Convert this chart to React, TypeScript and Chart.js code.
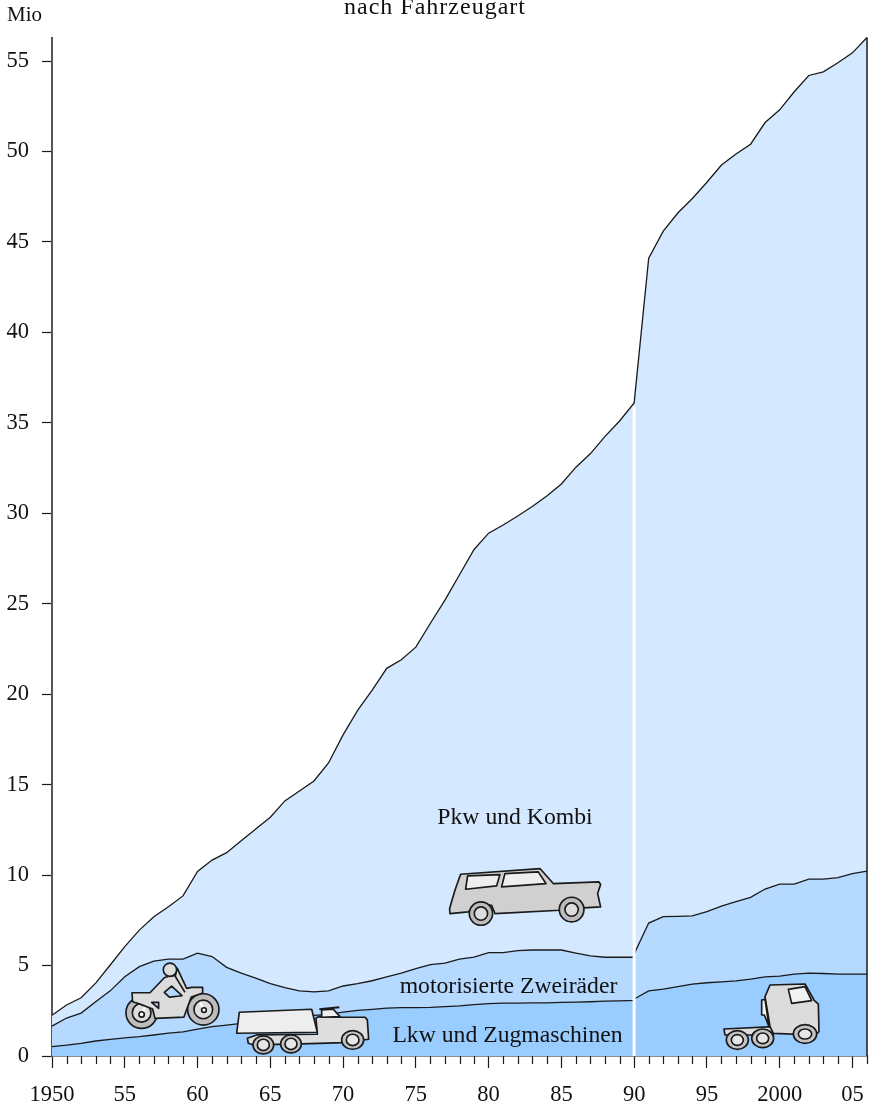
import React, { useEffect, useRef } from "react";
import { Chart, registerables } from "chart.js";

Chart.register(...registerables);

const years = [
  1950, 1951, 1952, 1953, 1954, 1955, 1956, 1957, 1958, 1959,
  1960, 1961, 1962, 1963, 1964, 1965, 1966, 1967, 1968, 1969,
  1970, 1971, 1972, 1973, 1974, 1975, 1976, 1977, 1978, 1979,
  1980, 1981, 1982, 1983, 1984, 1985, 1986, 1987, 1988, 1989,
  1990, 1990, 1991, 1992, 1993, 1994, 1995, 1996, 1997, 1998, 1999,
  2000, 2001, 2002, 2003, 2004, 2005, 2006,
];
const pkwTop = [
  2.25, 2.82, 3.22, 4.03, 5.03, 6.05, 6.96, 7.7, 8.25, 8.85,
  10.2, 10.83, 11.24, 11.9, 12.55, 13.2, 14.1, 14.65, 15.2, 16.2,
  17.75, 19.1, 20.23, 21.43, 21.9, 22.6, 23.92, 25.2, 26.6, 28.0,
  28.9, 29.35, 29.85, 30.37, 30.96, 31.62, 32.55, 33.3, 34.25, 35.1,
  36.1, 36.1, 44.1, 45.6, 46.6, 47.4, 48.3, 49.25, 49.86, 50.4, 51.6,
  52.3, 53.3, 54.2, 54.4, 54.9, 55.45, 56.3,
];
const zweiraederTop = [
  1.65, 2.1, 2.37, 3.0, 3.6, 4.38, 4.94, 5.25, 5.36, 5.36,
  5.69, 5.5, 4.9, 4.58, 4.3, 4.0, 3.78, 3.6, 3.54, 3.6,
  3.87, 4.0, 4.16, 4.38, 4.58, 4.83, 5.05, 5.13, 5.36, 5.46,
  5.71, 5.71, 5.82, 5.86, 5.86, 5.86, 5.69, 5.53, 5.46, 5.46,
  5.46, 5.64, 7.35, 7.7, 7.72, 7.75, 7.98, 8.29, 8.53, 8.77, 9.23,
  9.5, 9.5, 9.78, 9.78, 9.86, 10.08, 10.22,
];
const lkwTop = [
  0.52, 0.6, 0.7, 0.83, 0.92, 1.0, 1.07, 1.16, 1.26, 1.33,
  1.49, 1.62, 1.71, 1.8, 1.9, 2.0, 2.1, 2.2, 2.25, 2.3,
  2.43, 2.52, 2.58, 2.65, 2.67, 2.67, 2.69, 2.73, 2.77, 2.84,
  2.9, 2.92, 2.92, 2.94, 2.94, 2.96, 2.98, 3.0, 3.03, 3.05,
  3.08, 3.15, 3.6, 3.7, 3.84, 3.97, 4.05, 4.1, 4.15, 4.25, 4.37,
  4.42, 4.53, 4.58, 4.56, 4.53, 4.53, 4.53,
];
const xTickYears = [1950, 1955, 1960, 1965, 1970, 1975, 1980, 1985, 1990, 1995, 2000, 2005];
const xTickLabels = ["1950", "55", "60", "65", "70", "75", "80", "85", "90", "95", "2000", "05"];

const SERIF = '"Liberation Serif", "Times New Roman", serif';
const LINE = "#1a1a1a";
const STROKE = 5;

const toPoints = (values: number[]) => values.map((y, i) => ({ x: years[i], y }));

type Pt = [number, number];

function poly(ctx: CanvasRenderingContext2D, pts: Pt[], fill: string, stroke = LINE, width = STROKE) {
  ctx.beginPath();
  pts.forEach(([x, y], i) => (i ? ctx.lineTo(x, y) : ctx.moveTo(x, y)));
  ctx.closePath();
  ctx.fillStyle = fill;
  ctx.fill();
  ctx.lineWidth = width;
  ctx.strokeStyle = stroke;
  ctx.stroke();
}

function wheel(
  ctx: CanvasRenderingContext2D,
  cx: number, cy: number, rx: number, ry: number, irx: number, iry: number,
  tyre = "#c4c4c4", hub = "#e6e6e6",
) {
  ctx.lineWidth = STROKE;
  ctx.strokeStyle = LINE;
  ctx.beginPath();
  ctx.ellipse(cx, cy, rx, ry, 0, 0, Math.PI * 2);
  ctx.fillStyle = tyre;
  ctx.fill();
  ctx.stroke();
  ctx.beginPath();
  ctx.ellipse(cx, cy, irx, iry, 0, 0, Math.PI * 2);
  ctx.fillStyle = hub;
  ctx.fill();
  ctx.stroke();
}

function drawMotorbike(ctx: CanvasRenderingContext2D) {
  wheel(ctx, 65, 173, 47, 47, 28, 28, "#bdbdbd", "#dddddd");
  wheel(ctx, 250, 163, 47, 47, 28, 28, "#bdbdbd", "#dddddd");
  ctx.beginPath(); ctx.moveTo(65, 178); ctx.lineTo(78, 150); ctx.moveTo(252, 165); ctx.lineTo(240, 142);
  ctx.strokeStyle = "#ffffff"; ctx.lineWidth = 7; ctx.stroke();
  ctx.strokeStyle = LINE; ctx.lineWidth = STROKE;
  ctx.fillStyle = "#ffffff";
  ctx.beginPath(); ctx.arc(65, 178, 8, 0, Math.PI * 2); ctx.fill(); ctx.stroke();
  ctx.beginPath(); ctx.arc(252, 165, 7, 0, Math.PI * 2); ctx.fill(); ctx.stroke();
  poly(ctx, [
    [36, 113], [90, 113], [133, 68], [150, 62], [166, 62], [172, 40], [200, 100], [215, 97], [248, 97], [248, 114],
    [214, 126], [205, 150], [192, 186], [105, 190], [98, 162], [62, 148], [38, 140],
  ], "#dcdcdc");
  ctx.beginPath(); ctx.arc(150, 44, 20, 0, Math.PI * 2); ctx.fillStyle = "#dcdcdc"; ctx.fill(); ctx.stroke();
  poly(ctx, [[133, 112], [155, 93], [186, 122], [148, 126]], "#b5d9ff");
  poly(ctx, [[95, 142], [116, 142], [116, 160]], "#b5d9ff");
  ctx.beginPath(); ctx.moveTo(165, 62); ctx.lineTo(195, 112); ctx.stroke();
}

function drawTruck(ctx: CanvasRenderingContext2D) {
  poly(ctx, [
    [52, 115], [80, 105], [262, 103], [258, 55], [265, 50], [335, 52], [405, 52], [412, 60],
    [416, 118], [340, 128], [215, 132], [70, 135], [55, 130],
  ], "#dedede");
  poly(ctx, [[275, 30], [310, 28], [330, 50], [275, 52]], "#f0f0f0");
  ctx.beginPath(); ctx.moveTo(268, 28); ctx.lineTo(328, 22); ctx.lineWidth = 6; ctx.stroke();
  poly(ctx, [[28, 37], [245, 28], [262, 97], [20, 100]], "#eeeeee");
  wheel(ctx, 100, 135, 31, 27, 18, 17);
  wheel(ctx, 183, 132, 31, 27, 18, 17);
  wheel(ctx, 368, 120, 33, 28, 19, 17);
}

function drawCar(ctx: CanvasRenderingContext2D) {
  poly(ctx, [
    [47, 37], [285, 20], [325, 65], [462, 60], [467, 68], [458, 95], [467, 135], [415, 138],
    [345, 145], [150, 155], [140, 130], [100, 125], [70, 150], [15, 155], [14, 140], [30, 85],
  ], "#d0d0d0");
  poly(ctx, [[68, 42], [165, 38], [155, 72], [62, 82]], "#eeeeee");
  poly(ctx, [[180, 35], [280, 30], [303, 65], [170, 75]], "#eeeeee");
  wheel(ctx, 108, 155, 35, 35, 20, 20, "#bcbcbc", "#dcdcdc");
  wheel(ctx, 380, 143, 37, 37, 20, 20, "#bcbcbc", "#dcdcdc");
}

function drawTractor(ctx: CanvasRenderingContext2D) {
  poly(ctx, [[12, 147], [160, 140], [160, 165], [15, 165]], "#dcdcdc");
  poly(ctx, [
    [150, 15], [255, 12], [282, 60], [295, 72], [297, 155], [285, 165], [160, 160], [150, 140], [135, 50],
  ], "#dcdcdc");
  poly(ctx, [[205, 28], [255, 20], [275, 62], [215, 70]], "#f2f2f2");
  poly(ctx, [[125, 60], [135, 58], [147, 140], [133, 105], [125, 105]], "#f5f5f5");
  wheel(ctx, 52, 180, 33, 28, 18, 16);
  wheel(ctx, 128, 175, 33, 28, 18, 16);
  wheel(ctx, 255, 162, 35, 28, 20, 15);
}

const overlay = {
  id: "overlay",
  afterDatasetsDraw(chart: any) {
    const { ctx, scales: { x, y } } = chart;
    const px = (v: number) => x.getPixelForValue(v);
    const py = (v: number) => y.getPixelForValue(v);

    ctx.save();
    // Bruch 1990 (Gebietsstand)
    ctx.strokeStyle = "#ffffff";
    ctx.lineWidth = 3;
    ctx.beginPath();
    ctx.moveTo(px(1990), py(35.9));
    ctx.lineTo(px(1990), py(0));
    ctx.stroke();
    // right edge of the areas
    ctx.strokeStyle = LINE;
    ctx.lineWidth = 1.5;
    ctx.beginPath();
    ctx.moveTo(px(2006), py(56.3));
    ctx.lineTo(px(2006), py(0));
    ctx.stroke();

    // minor x ticks
    ctx.strokeStyle = LINE;
    ctx.lineWidth = 1.2;
    x.ticks.forEach((t: any) => {
      if (xTickYears.includes(t.value)) return;
      const p = Math.round(px(t.value)) + 0.5;
      ctx.beginPath();
      ctx.moveTo(p, py(0));
      ctx.lineTo(p, py(0) + 8);
      ctx.stroke();
    });

    // vehicle pictograms, anchored to the data axes
    const icon = (year: number, value: number, fn: (c: CanvasRenderingContext2D) => void) => {
      ctx.save();
      ctx.translate(px(year), py(value));
      ctx.scale(1 / 3, 1 / 3);
      ctx.lineJoin = "round";
      fn(ctx);
      ctx.restore();
    };
    icon(1954.67, 5.58, drawMotorbike);
    icon(1962.23, 3.1, drawTruck);
    icon(1977.0, 10.73, drawCar);
    icon(1995.9, 4.2, drawTractor);

    // texts
    ctx.fillStyle = "#111111";
    ctx.textBaseline = "alphabetic";
    ctx.font = `23.7px ${SERIF}`;
    ctx.textAlign = "center";
    ctx.fillText("Pkw und Kombi", 515, 824);
    ctx.fillText("motorisierte Zweiräder", 508.5, 993);
    ctx.fillText("Lkw und Zugmaschinen", 507.5, 1042);
    ctx.font = `24px ${SERIF}`;
    (ctx as any).letterSpacing = "1px";
    ctx.fillText("nach Fahrzeugart", 435, 14);
    (ctx as any).letterSpacing = "0px";
    ctx.textAlign = "left";
    ctx.font = `21px ${SERIF}`;
    ctx.fillText("Mio", 7, 21);
    ctx.restore();
  },
};

export default function App() {
  const ref = useRef<HTMLCanvasElement>(null);
  useEffect(() => {
    const lineStyle = {
      borderColor: LINE,
      borderWidth: 1.3,
      pointRadius: 0,
      tension: 0,
      clip: false,
    };
    const chart = new Chart(ref.current!, {
      type: "line",
      data: {
        datasets: [
          { label: "Lkw und Zugmaschinen", data: toPoints(lkwTop), backgroundColor: "#99CCFF", fill: "origin", ...lineStyle },
          { label: "motorisierte Zweiräder", data: toPoints(zweiraederTop), backgroundColor: "#B5D9FF", fill: "origin", ...lineStyle },
          { label: "Pkw und Kombi", data: toPoints(pkwTop), backgroundColor: "#D4E9FF", fill: "origin", ...lineStyle },
        ],
      },
      options: {
        responsive: false,
        animation: false,
        layout: { padding: { top: 37.5, right: 8, left: 0, bottom: 0 } },
        plugins: { legend: { display: false }, tooltip: { enabled: false } },
        scales: {
          x: {
            type: "linear",
            min: 1950,
            max: 2006,
            afterFit: (s: any) => { s.height = 53; s.paddingLeft = 0; s.paddingRight = 0; },
            border: { color: LINE, width: 1.5 },
            grid: {
              drawOnChartArea: false,
              tickLength: 12,
              tickWidth: 1.2,
              tickColor: (c: any) => (xTickYears.includes(c.tick?.value) ? LINE : "rgba(0,0,0,0)"),
            },
            ticks: {
              stepSize: 1,
              autoSkip: false,
              maxRotation: 0,
              includeBounds: false,
              padding: 14,
              color: "#111111",
              font: { family: SERIF, size: 22.5 },
              callback: (v: any) => {
                const i = xTickYears.indexOf(Number(v));
                return i >= 0 ? xTickLabels[i] : "";
              },
            },
          },
          y: {
            min: 0,
            max: 56.3,
            afterFit: (s: any) => { s.width = 52; },
            border: { color: "#555555", width: 2 },
            grid: { drawOnChartArea: false, tickLength: 10, tickWidth: 1.2, tickColor: LINE },
            ticks: {
              stepSize: 5,
              includeBounds: false,
              padding: 13,
              color: "#111111",
              font: { family: SERIF, size: 22.5 },
            },
          },
        },
      },
      plugins: [overlay],
    } as any);
    return () => chart.destroy();
  }, []);
  return (
    <canvas
      ref={ref}
      width={875}
      height={1109}
      style={{ position: "absolute", left: 0, top: 0, width: 875, height: 1109 }}
    />
  );
}
